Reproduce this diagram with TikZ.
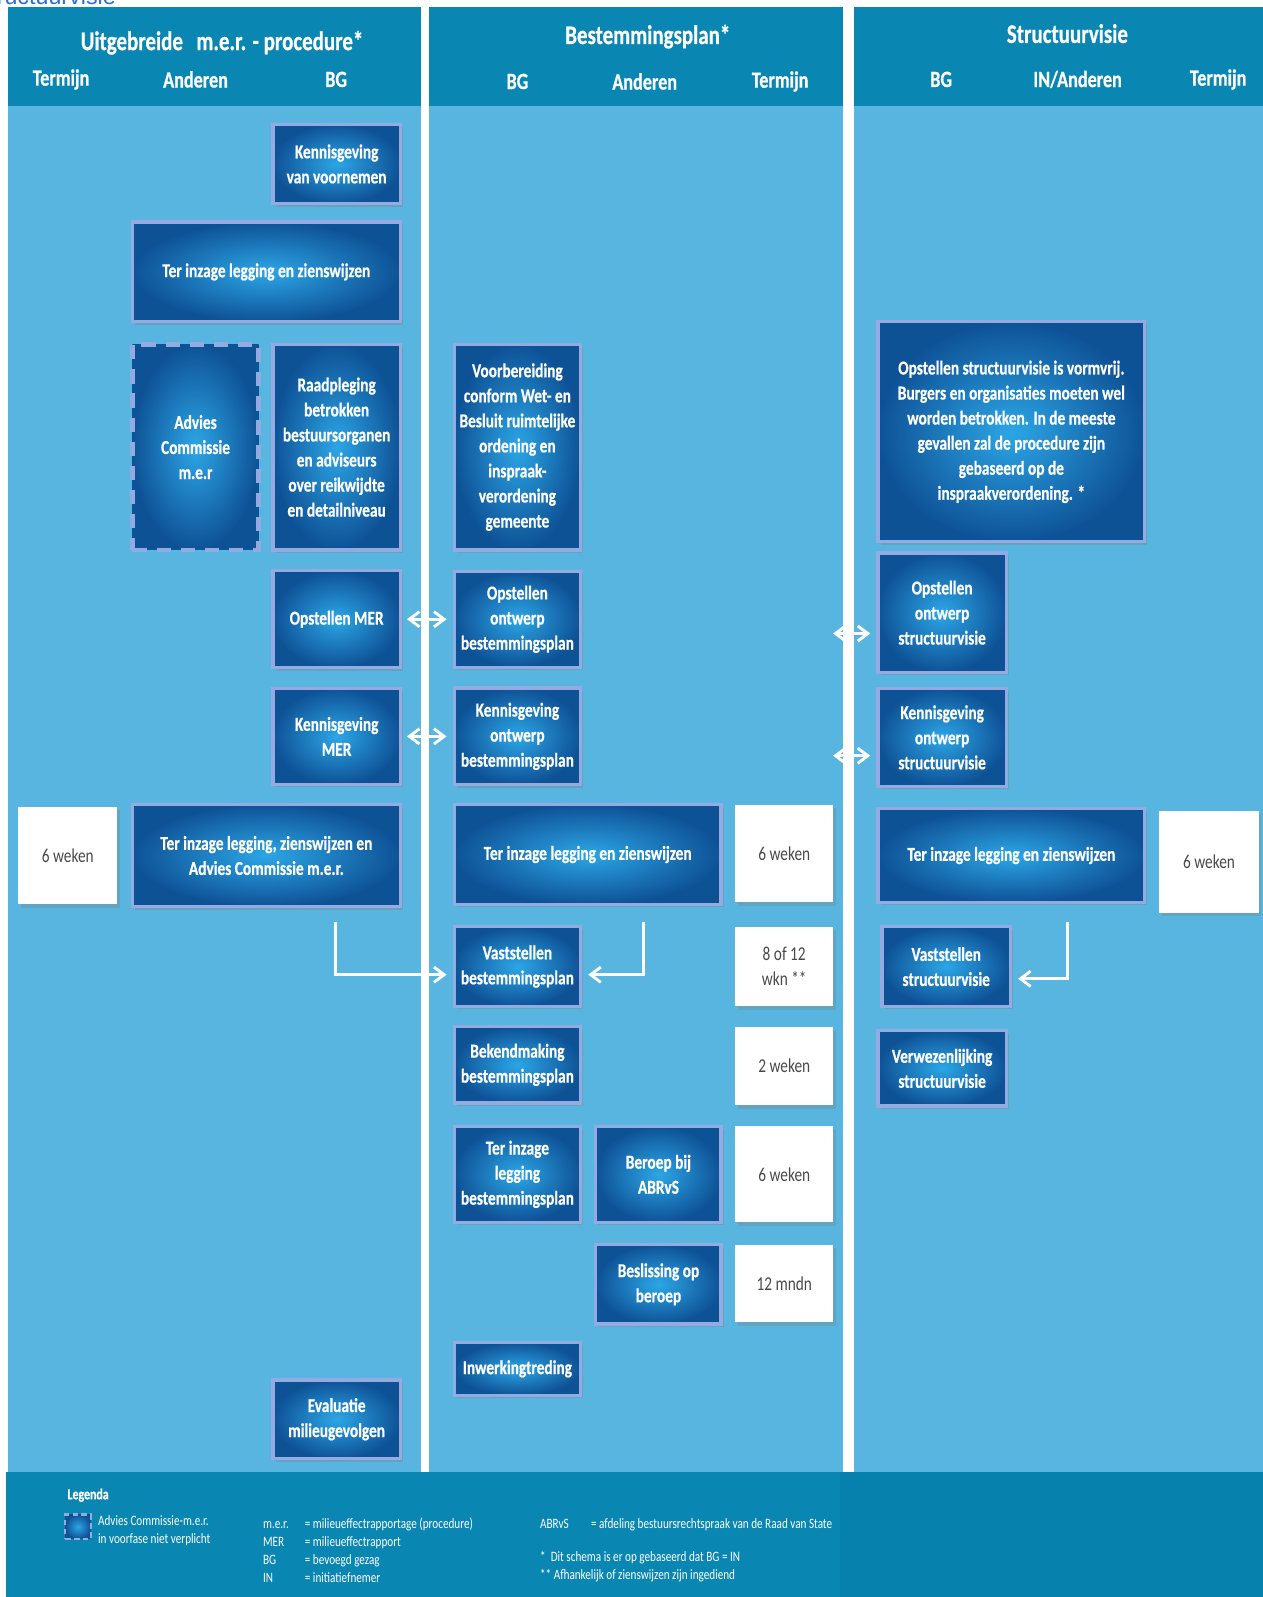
\documentclass[tikz,border=0pt]{standalone}
\usepackage{fontspec}
\setmainfont{Carlito}[FakeStretch=0.78, BoldFeatures={FakeBold=0.6}]
\newfontfamily\linkfont{Liberation Sans}
\usepackage{tikz}
\usetikzlibrary{arrows.meta,positioning,shadows,calc}
\definecolor{headblue}{HTML}{0A86B2}
\definecolor{legendblue}{HTML}{0680AC}
\definecolor{paneblue}{HTML}{58B5E0}
\definecolor{boxdeep}{HTML}{0E5296}
\definecolor{boxglow}{HTML}{2CA6E6}
\definecolor{boxrim}{HTML}{93AAE2}
\definecolor{termgray}{HTML}{4A4A4A}
\definecolor{linkblue}{HTML}{2B6FD6}

\begin{document}
\begin{tikzpicture}[x=0.02cm, y=-0.02cm,
  tile/.style={draw=boxrim, inner color=boxglow, outer color=boxdeep, text=white,
               align=center, inner sep=2pt, font=\bfseries\fontsize{11}{14}\selectfont},
  stage/.style={tile, line width=1.8pt,
                drop shadow={shadow xshift=0.5mm, shadow yshift=-0.6mm, opacity=0.35}},
  optional/.style={tile, line width=2.6pt, dash pattern=on 8pt off 5.5pt},
  term/.style={fill=white, text=termgray, align=center, inner sep=2pt,
               font=\fontsize{11}{14}\selectfont,
               drop shadow={shadow xshift=0.5mm, shadow yshift=-0.7mm, opacity=0.3}},
  flow/.style={draw=white, line width=1.6pt, -{Straight Barb[length=2mm,width=3mm]}, shorten >=1.2mm},
  twoway/.style={flow, {Straight Barb[length=2mm,width=3mm]}-{Straight Barb[length=2mm,width=3mm]},
                 shorten <=1mm},
  head/.style={text=white, font=\bfseries\fontsize{15}{18}\selectfont},
  subhead/.style={text=white, font=\bfseries\fontsize{13}{16}\selectfont},
  legendtext/.style={text=white, align=left, inner sep=0pt, font=\fontsize{8}{10}\selectfont}
]
  \useasboundingbox (0,0) rectangle (1240,1568);
  % panels, headers and legend band
  \fill[white] (0,0) rectangle (1240,1568);
  \foreach \l/\r in {8/413,421/828,838/1240}{
    \fill[paneblue] (\l,104) rectangle (\r,1445);
    \fill[headblue] (\l,7) rectangle (\r,104);
  }
  \fill[headblue] (6,1445) rectangle (825,1568);
  \fill[legendblue] (825,1445) rectangle (1240,1568);
  \node[text=linkblue, font=\linkfont\fontsize{13}{15}\selectfont, anchor=base east, inner sep=0pt] (link) at (114,4) {Structuurvisie};

  % column headings
  \node[head] (h1) at (218,42) {Uitgebreide\enspace m.e.r. - procedure*};
  \node[subhead] (h1a) at (60,78) {Termijn};
  \node[subhead] (h1b) at (192,78) {Anderen};
  \node[subhead] (h1c) at (330,78) {BG};
  \node[head] (h2) at (636,36) {Bestemmingsplan*};
  \node[subhead] (h2a) at (508,80) {BG};
  \node[subhead] (h2b) at (633,80) {Anderen};
  \node[subhead] (h2c) at (766,80) {Termijn};
  \node[head] (h3) at (1048,33) {Structuurvisie};
  \node[subhead] (h3a) at (924,78) {BG};
  \node[subhead] (h3b) at (1058,78) {IN/Anderen};
  \node[subhead] (h3c) at (1196,78) {Termijn};

  % m.e.r. procedure
  \node[stage, minimum width=2.5cm, minimum height=1.56cm] (kvv) at (330.5,161) {Kennisgeving\\van voornemen};
  \node[stage, minimum width=5.26cm, minimum height=1.96cm] (tiz1) at (261.5,267) {Ter inzage legging en zienswijzen};
  \node[optional, minimum width=2.48cm, minimum height=4.04cm] (acm) at (192,439) {Advies\\Commissie\\m.e.r};
  \node[stage, minimum width=2.5cm, minimum height=4.04cm] (raad) at (330.5,439) {Raadpleging\\betrokken\\bestuursorganen\\en adviseurs\\over reikwijdte\\en detailniveau};
  \node[stage, minimum width=2.5cm, minimum height=1.9cm] (omer) at (330.5,608) {Opstellen MER};
  \node[stage, minimum width=2.5cm, minimum height=1.88cm] (kmer) at (330.5,723) {Kennisgeving\\MER};
  \node[stage, minimum width=5.26cm, minimum height=2cm] (tizm) at (261.5,840) {Ter inzage legging, zienswijzen en\\Advies Commissie m.e.r.};
  \node[term, minimum width=1.94cm, minimum height=1.92cm] (wm) at (66.5,840) {6 weken};
  \node[stage, minimum width=2.5cm, minimum height=1.54cm] (eval) at (330.5,1393.5) {Evaluatie\\milieugevolgen};

  % bestemmingsplan
  \node[stage, minimum width=2.48cm, minimum height=4.04cm] (voorb) at (508,439) {Voorbereiding\\conform Wet- en\\Besluit ruimtelijke\\ordening en\\inspraak-\\verordening\\gemeente};
  \node[stage, minimum width=2.48cm, minimum height=1.88cm] (obp) at (508,608) {Opstellen\\ontwerp\\bestemmingsplan};
  \node[stage, minimum width=2.48cm, minimum height=1.9cm] (kbp) at (508,723) {Kennisgeving\\ontwerp\\bestemmingsplan};
  \node[stage, minimum width=5.24cm, minimum height=1.96cm] (tizb) at (577,839) {Ter inzage legging en zienswijzen};
  \node[term, minimum width=1.92cm, minimum height=1.92cm] (wb1) at (770,838) {6 weken};
  \node[stage, minimum width=2.48cm, minimum height=1.56cm] (vbp) at (508,949) {Vaststellen\\bestemmingsplan};
  \node[term, minimum width=1.92cm, minimum height=1.56cm] (wb2) at (770,949) {8 of 12\\wkn **};
  \node[stage, minimum width=2.48cm, minimum height=1.5cm] (bbp) at (508,1045.5) {Bekendmaking\\bestemmingsplan};
  \node[term, minimum width=1.92cm, minimum height=1.54cm] (wb3) at (770,1046.5) {2 weken};
  \node[stage, minimum width=2.48cm, minimum height=1.88cm] (tibp) at (508,1153) {Ter inzage\\legging\\bestemmingsplan};
  \node[stage, minimum width=2.46cm, minimum height=1.88cm] (ber) at (646.5,1153) {Beroep bij\\ABRvS};
  \node[term, minimum width=1.92cm, minimum height=1.88cm] (wb4) at (770,1153) {6 weken};
  \node[stage, minimum width=2.46cm, minimum height=1.56cm] (bes) at (646.5,1261) {Beslissing op\\beroep};
  \node[term, minimum width=1.92cm, minimum height=1.52cm] (wb5) at (770,1260) {12 mndn};
  \node[stage, minimum width=2.48cm, minimum height=1.04cm] (inw) at (508,1344) {Inwerkingtreding};

  % structuurvisie
  \node[stage, minimum width=5.24cm, minimum height=4.32cm] (vorm) at (993,424) {Opstellen structuurvisie is vormvrij.\\Burgers en organisaties moeten wel\\worden betrokken. In de meeste\\gevallen zal de procedure zijn\\gebaseerd op de\\inspraakverordening. *};
  \node[stage, minimum width=2.52cm, minimum height=2.34cm] (osv) at (925,601.5) {Opstellen\\ontwerp\\structuurvisie};
  \node[stage, minimum width=2.52cm, minimum height=1.92cm] (ksv) at (925,724) {Kennisgeving\\ontwerp\\structuurvisie};
  \node[stage, minimum width=5.24cm, minimum height=1.84cm] (tizs) at (993,840) {Ter inzage legging en zienswijzen};
  \node[term, minimum width=1.96cm, minimum height=2cm] (ws) at (1187,846) {6 weken};
  \node[stage, minimum width=2.52cm, minimum height=1.56cm] (vsv) at (929,949) {Vaststellen\\structuurvisie};
  \node[stage, minimum width=2.52cm, minimum height=1.48cm] (vzsv) at (925,1049) {Verwezenlijking\\structuurvisie};

  % connectors
  \foreach \x/\y in {omer/obp,kmer/kbp}{\draw[twoway] (\x) -- (\y);}
  \coordinate (sv1) at (813,622);
  \coordinate (sv2) at (813,742);
  \draw[twoway] (sv1) -- (sv1 -| osv.west);
  \draw[twoway] (sv2) -- (sv2 -| ksv.west);
  \coordinate (m1) at (329,905);
  \coordinate (b1) at (632,905);
  \coordinate (s1) at (1048,905);
  \draw[flow] (m1) |- ([yshift=-1.6mm]vbp.west);
  \draw[flow] (b1) |- ([yshift=-1.6mm]vbp.east);
  \draw[flow] (s1) |- ([yshift=-2.4mm]vsv.east);

  % legend
  \node[text=white, inner sep=0pt, anchor=west, font=\bfseries\fontsize{8.5}{10}\selectfont] (leg) at (66,1468) {Legenda};
  \node[tile, line width=1.2pt, dash pattern=on 3pt off 2pt, minimum width=0.5cm, minimum height=0.48cm] (icon) at (76.5,1499) {};
  \node[legendtext, anchor=north west] (legac) at (96,1488) {Advies Commissie-m.e.r.\\in voorfase niet verplicht};
  \node[legendtext, anchor=north west] (legab) at (258,1488) {%
    \begin{tabular}{@{}p{0.82cm}@{}l@{}}
      m.e.r. & = milieueffectrapportage (procedure)\\
      MER & = milieueffectrapport\\
      BG & = bevoegd gezag\\
      IN & = initiatiefnemer
    \end{tabular}};
  \node[legendtext, anchor=north west] (legrs) at (530,1488) {%
    \begin{tabular}{@{}p{1cm}@{}l@{}}
      ABRvS & = afdeling bestuursrechtspraak van de Raad van State
    \end{tabular}};
  \node[legendtext, anchor=north west] (legnt) at (530,1523) {*\ \ Dit schema is er op gebaseerd dat BG = IN\\** Afhankelijk of zienswijzen zijn ingediend};
\end{tikzpicture}
\end{document}
